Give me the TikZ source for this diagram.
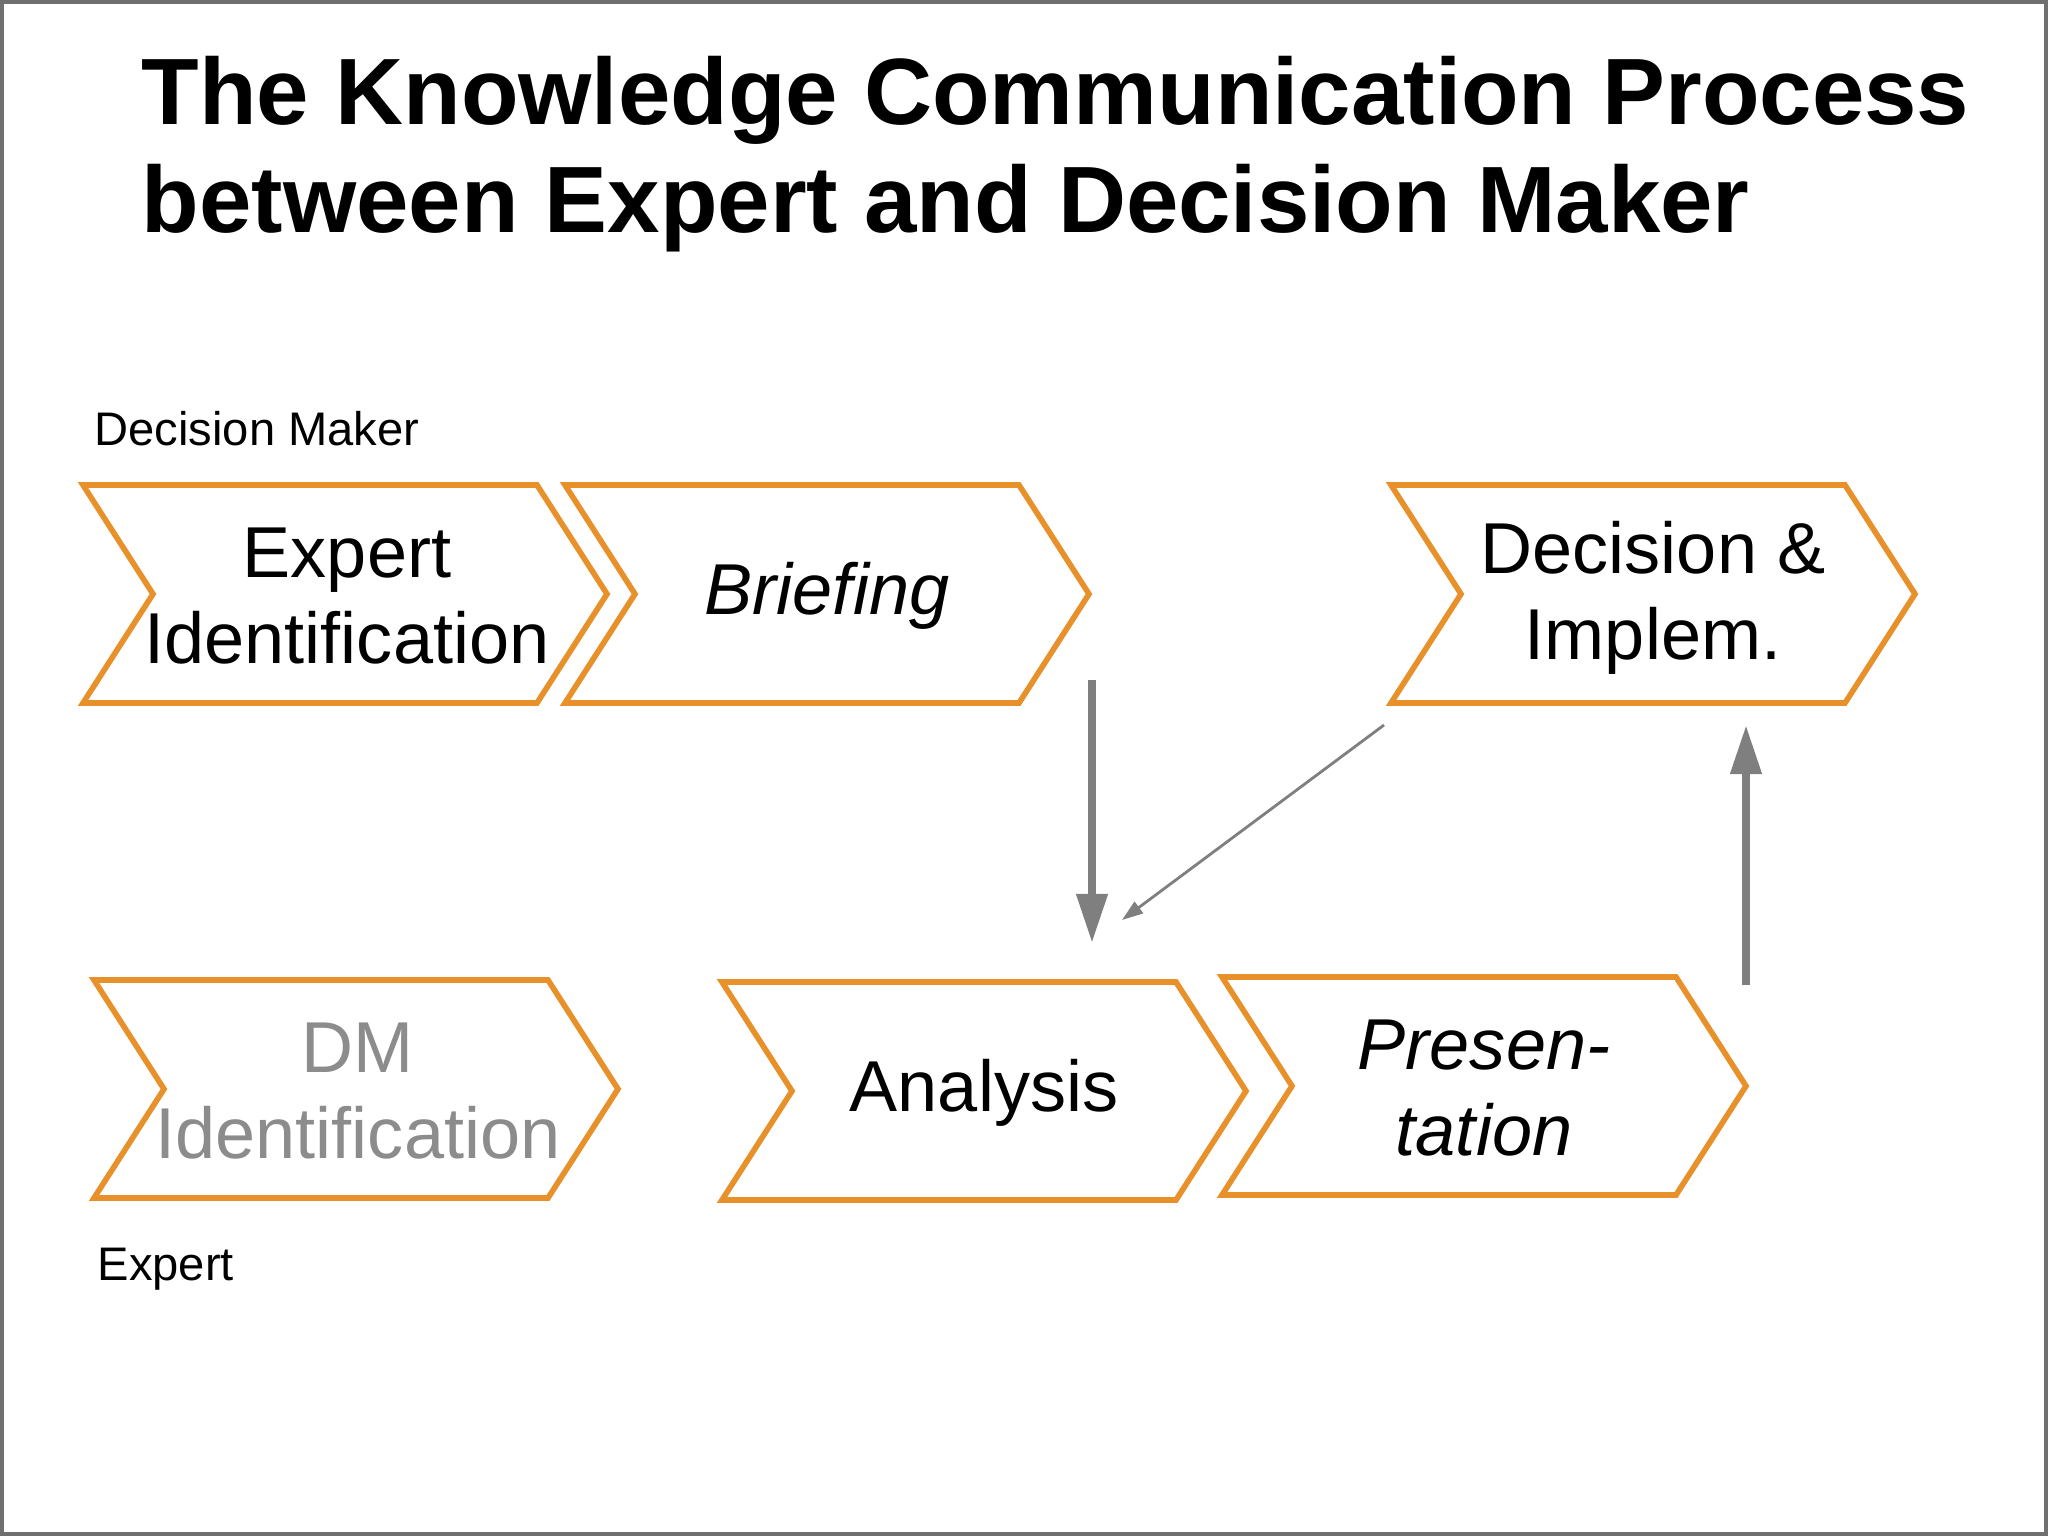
\documentclass[tikz,border=0pt]{standalone}
\usepackage{fontspec}
\setmainfont{Liberation Sans}
\usetikzlibrary{arrows.meta}
\definecolor{amber}{HTML}{E8912B}
\definecolor{ash}{HTML}{7F7F7F}
\definecolor{rim}{HTML}{6F6F6F}
\definecolor{dimtext}{HTML}{8C8C8C}

\begin{document}
\begin{tikzpicture}[x=.01cm,y=-.01cm,
  chev/.style={amber,line width=1.6pt,line join=miter,fill=white},
  stage/.style={font=\fontsize{20.5}{24.6}\selectfont,align=center,inner sep=0pt},
  role/.style={font=\fontsize{13.4}{16}\selectfont,anchor=base west,inner sep=0pt},
  flow/.style={ash,line width=2.3pt,-{Triangle[length=14pt,width=8.5pt]}},
  back/.style={ash,line width=.8pt,-{Triangle[length=6pt,width=4pt]}}]
\useasboundingbox (0,0) rectangle (2048,1536);
\draw[rim,line width=1.2pt] (2,2) rectangle (2046,1534);
\node[anchor=base west,align=left,inner sep=0pt,font=\bfseries\fontsize{26.8}{30.7}\selectfont] (title) at (141,232) {The Knowledge Communication Process\\between Expert and Decision Maker};
\node[role] (dmlabel) at (94,445) {Decision Maker};\node[role] (explabel) at (97,1280) {Expert};
% chevrons: top-left corner of each
\foreach \x/\y in {83/485,565/485,1391/485,94/980,722/982,1222/977}
  \draw[chev] (\x,\y)--++(454,0)--++(70,109)--++(-70,109)--++(-454,0)--++(70,-109)--cycle;
\node[stage] (expid) at (347,596) {Expert\\Identification};
\node[stage] (brief) at (827,596) {\itshape Briefing};
\node[stage] (decimp) at (1653,598) {Decision \&\\Implem.};
\node[stage,dimtext] (dmid) at (358,1091) {DM\\Identification};
\node[stage] (anal) at (984,1093) {Analysis};
\node[stage] (pres) at (1484,1088) {\itshape Presen-\\\itshape tation};
\coordinate (brief-out) at (1092,680);\coordinate (anal-in) at (1092,943);
\coordinate (dec-out) at (1384,725);\coordinate (anal-back) at (1122,920);
\coordinate (pres-out) at (1746,985);\coordinate (dec-in) at (1746,725);
\draw[flow] (brief-out)--(anal-in);\draw[back] (dec-out)--(anal-back);\draw[flow] (pres-out)--(dec-in);
\end{tikzpicture}
\end{document}
